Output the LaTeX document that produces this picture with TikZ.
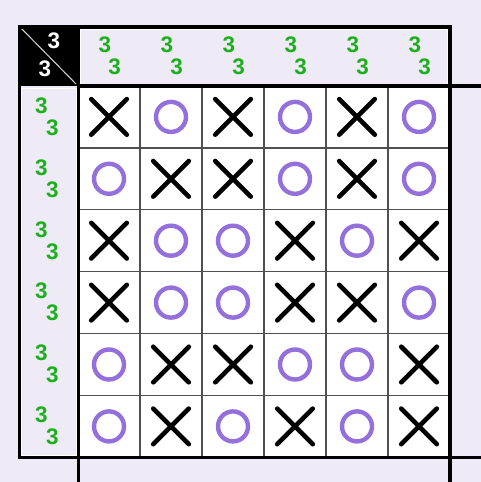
\documentclass[tikz,border=0pt]{standalone}
\usepackage{fontspec}
\setsansfont{Liberation Sans}
\usetikzlibrary{shapes.misc}
\definecolor{boardlav}{HTML}{EEEBF7}
\definecolor{cluegreen}{HTML}{1CAF1C}
\definecolor{markpurple}{HTML}{9370DB}
\definecolor{gridgray}{HTML}{505050}

\begin{document}
\begin{tikzpicture}[
    x=1pt, y=-1pt,
    clue/.style={font=\sffamily\bfseries\fontsize{22.5}{22.5}\selectfont, text=cluegreen, inner sep=0pt},
    cornerclue/.style={clue, text=white},
    xmark/.style={cross out, draw=black, line width=4.6pt, line cap=round, minimum size=31pt, inner sep=0pt},
    omark/.style={circle, draw=markpurple, line width=4.4pt, minimum size=30pt, inner sep=0pt},
    headbox/.style={draw=white, line width=1.5pt, fill=boardlav},
    thinline/.style={draw=gridgray, line width=1.3pt},
    thickline/.style={draw=black, line width=3.6pt}
]

% ---- Page ----
\fill[boardlav] (0,0) rectangle (481,482);
\useasboundingbox (0,0) rectangle (481,482);

% ---- Header boxes ----
\draw[headbox] (80.5,29) rectangle (448,84.5);
\draw[headbox] (21.5,88.5) rectangle (76.5,455.5);

% ---- Corner cell ----
\fill[black] (18,25) rectangle (78.5,86);
\draw[gray!30, line width=1pt] (19,26) -- (76,84);
\node[cornerclue] (corner-top) at (54,40.5) {3};
\node[cornerclue] (corner-bot) at (45,69) {3};

% ---- Board ----
\fill[white] (78,86) rectangle (450,457.5);
\foreach \k in {1,...,5} {
    \draw[thinline] ({78+62*\k},86) -- ({78+62*\k},457.5);
    \draw[thinline] (78,{86+61.9*\k}) -- (450,{86+61.9*\k});
}

% ---- Column clues ----
\foreach \c in {1,...,6} {
    \node[clue] (col-\c-a) at ({47+62*\c-4},45) {3};
    \node[clue] (col-\c-b) at ({47+62*\c+5.7},66.5) {3};
}

% ---- Row clues ----
\foreach \r in {1,...,6} {
    \node[clue] (row-\r-a) at (41.5,{55+61.9*\r-11.4}) {3};
    \node[clue] (row-\r-b) at (52.5,{55+61.9*\r+10.6}) {3};
}

% ---- Marks ----
\foreach \r/\marks in {1/{x,o,x,o,x,o}, 2/{o,x,x,o,x,o}, 3/{x,o,o,x,o,x},
                       4/{x,o,o,x,x,o}, 5/{o,x,x,o,o,x}, 6/{o,x,o,x,o,x}} {
    \foreach \m [count=\c] in \marks {
        \node[\m mark] (m-\r-\c) at ({47+62*\c},{55+61.9*\r}) {};
    }
}

% ---- Frame ----
\draw[thickline] (19.5,457.5) -- (19.5,26.8) -- (450,26.8) -- (450,482);
\draw[thickline] (78.5,25) -- (78.5,482);
\draw[thickline] (78.5,86) -- (481,86);
\draw[thickline] (17.7,457.5) -- (481,457.5);

\end{tikzpicture}
\end{document}
